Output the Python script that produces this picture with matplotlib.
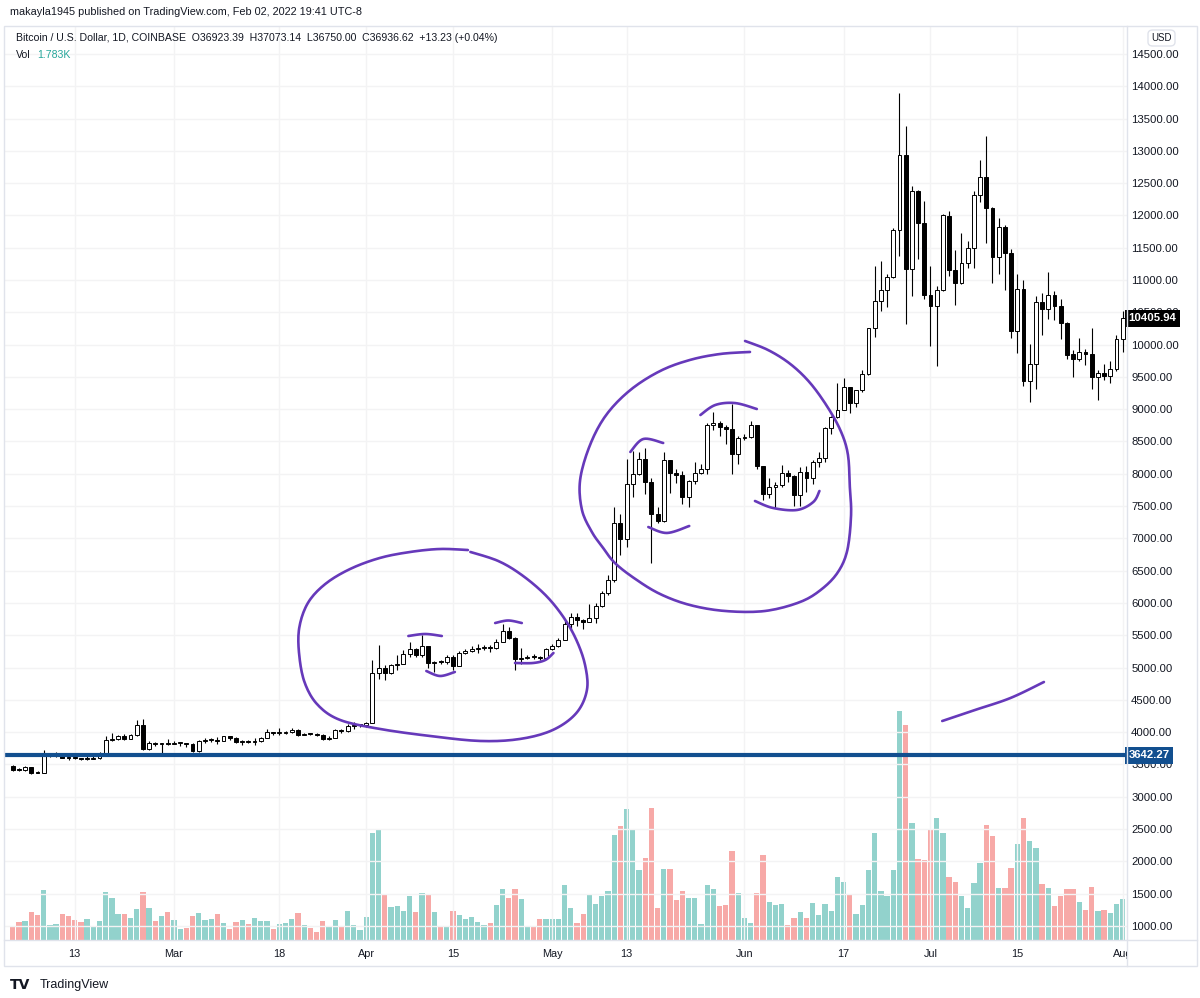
import matplotlib.pyplot as plt
import numpy as np
import matplotlib.transforms as mtransforms
from matplotlib.patches import Rectangle, FancyBboxPatch
from matplotlib.lines import Line2D

plt.rcParams['font.family'] = ['Liberation Sans', 'DejaVu Sans']

# --------------------------
# BTC/USD daily candles, Feb 03 2019 -> Aug 01 2019
# --------------------------
start_date = np.datetime64('2019-02-03')

opens = [3480, 3412, 3408, 3455, 3378, 3370, 3635, 3640, 3668, 3608,
         3602, 3595, 3578, 3585, 3598, 3640, 3875, 3895, 3945, 3898,
         3955, 4115, 3740, 3840, 3820, 3825, 3815, 3828, 3832, 3815,
         3708, 3870, 3878, 3885, 3865, 3935, 3915, 3845, 3860, 3852,
         3862, 3912, 4005, 3985, 3990, 4008, 4035, 3962, 3975, 3970,
         3962, 3900, 3915, 4030, 4015, 4095, 4105, 4110, 4140, 4915,
         4990, 4910, 5045, 5058, 5205, 5285, 5200, 5330, 5065, 5090,
         5085, 5170, 5030, 5220, 5250, 5295, 5305, 5320, 5300, 5400,
         5570, 5465, 5140, 5155, 5165, 5160, 5150, 5290, 5340, 5430,
         5670, 5785, 5735, 5705, 5760, 5960, 6155, 6350, 7235, 6985,
         7845, 8000, 8225, 7880, 7370, 7265, 8210, 8005, 7975, 7640,
         7895, 8015, 8070, 8750, 8790, 8730, 8700, 8300, 8558, 8565,
         8750, 8120, 7680, 7800, 7820, 8005, 7960, 7665, 8030, 7930,
         8180, 8245, 8714, 8885, 8990, 9343, 9090, 9290, 9540, 10250,
         10676, 10850, 11040, 11777, 12935, 11168, 12373, 11881, 10765, 10590,
         10850, 11995, 11153, 10948, 11261, 11488, 12315, 12590, 12114, 11363,
         11813, 11425, 10203, 10867, 9436, 9705, 10660, 10546, 10765, 10600,
         10340, 9850, 9783, 9890, 9860, 9500, 9556, 9520, 9618, 10083]

highs = [3492, 3440, 3470, 3462, 3405, 3720, 3660, 3690, 3672, 3640,
         3630, 3600, 3640, 3625, 3690, 3935, 3990, 3960, 3975, 3965,
         4185, 4200, 3865, 3845, 3835, 3900, 3865, 3840, 3835, 3825,
         3880, 3905, 3910, 3925, 3945, 3940, 3920, 3880, 3875, 3910,
         3925, 4045, 4010, 4060, 4020, 4060, 4055, 3995, 3992, 3985,
         3972, 3935, 4045, 4045, 4120, 4150, 4120, 4165, 5120, 5355,
         5040, 5060, 5200, 5265, 5390, 5300, 5510, 5340, 5100, 5120,
         5195, 5200, 5250, 5290, 5330, 5360, 5355, 5350, 5450, 5680,
         5630, 5475, 5300, 5200, 5210, 5180, 5300, 5360, 5460, 5730,
         5850, 5850, 5745, 5985, 5995, 6180, 6440, 7480, 7375, 8225,
         8350, 8330, 8400, 7930, 7490, 8340, 8215, 8070, 8045, 7900,
         8180, 8145, 8780, 8950, 8815, 8760, 9080, 8590, 8620, 8810,
         8760, 8125, 7940, 7880, 8140, 8060, 7985, 8100, 8120, 8220,
         8330, 8720, 8900, 9400, 9490, 9350, 9300, 9600, 10250, 11220,
         11300, 11100, 11800, 13890, 13380, 12460, 12390, 12218, 11220, 10900,
         12020, 12073, 11467, 11735, 11600, 12380, 12850, 13225, 12130, 11953,
         11850, 11480, 11090, 11000, 10005, 10750, 10800, 11126, 10830, 10700,
         10350, 9920, 10100, 9930, 10262, 9600, 9700, 9750, 10150, 10520]

lows = [3395, 3398, 3400, 3355, 3362, 3365, 3610, 3612, 3600, 3575,
        3578, 3565, 3570, 3580, 3585, 3625, 3860, 3880, 3880, 3890,
        3945, 3730, 3728, 3785, 3675, 3800, 3810, 3790, 3775, 3695,
        3700, 3835, 3855, 3820, 3860, 3885, 3835, 3800, 3835, 3805,
        3855, 3908, 3955, 3950, 3965, 3980, 3935, 3950, 3960, 3945,
        3885, 3880, 3905, 3995, 4005, 4045, 4085, 4085, 4135, 4830,
        4810, 4905, 4970, 5050, 5170, 5160, 5160, 4990, 4925, 5050,
        5055, 4955, 5025, 5210, 5240, 5230, 5270, 5240, 5290, 5390,
        5450, 4970, 5060, 5130, 5130, 5110, 5140, 5280, 5320, 5420,
        5560, 5640, 5590, 5700, 5690, 5945, 6120, 6330, 6750, 6870,
        7640, 7980, 7680, 6620, 7240, 7260, 7705, 7860, 7525, 7490,
        7835, 7990, 7990, 8680, 8580, 8455, 7990, 8145, 8520, 8550,
        8080, 7600, 7630, 7474, 7790, 7880, 7500, 7500, 7720, 7840,
        8110, 8190, 8610, 8860, 8980, 8936, 9040, 9270, 9530, 10110,
        10520, 10575, 11030, 11374, 10316, 10753, 11320, 10700, 9980, 9670,
        10830, 11065, 10620, 10940, 11180, 11180, 12200, 11580, 10960, 11100,
        10850, 10108, 9875, 9360, 9107, 9320, 10150, 10400, 10380, 10080,
        9780, 9500, 9750, 9680, 9320, 9140, 9450, 9400, 9590, 9880]

closes = [3410, 3408, 3455, 3375, 3370, 3635, 3640, 3668, 3605, 3602,
          3595, 3578, 3585, 3598, 3640, 3875, 3900, 3945, 3898, 3955,
          4115, 3740, 3840, 3820, 3825, 3815, 3828, 3832, 3815, 3708,
          3870, 3878, 3885, 3865, 3935, 3915, 3845, 3860, 3852, 3862,
          3912, 4005, 3985, 3990, 4008, 4035, 3962, 3975, 3970, 3962,
          3900, 3915, 4030, 4015, 4095, 4105, 4110, 4140, 4915, 4990,
          4910, 5045, 5058, 5205, 5285, 5200, 5330, 5065, 5090, 5085,
          5170, 5030, 5220, 5250, 5295, 5305, 5320, 5300, 5400, 5570,
          5465, 5140, 5155, 5165, 5160, 5150, 5290, 5340, 5430, 5670,
          5785, 5735, 5705, 5760, 5960, 6155, 6350, 7235, 6985, 7845,
          8000, 8225, 7880, 7370, 7265, 8210, 8005, 7975, 7640, 7895,
          8015, 8070, 8750, 8790, 8730, 8700, 8300, 8558, 8565, 8750,
          8120, 7680, 7800, 7820, 8005, 7960, 7665, 8030, 7930, 8180,
          8245, 8714, 8885, 8990, 9343, 9090, 9290, 9540, 10250, 10676,
          10850, 11040, 11777, 12935, 11168, 12373, 11881, 10765, 10590, 10850,
          12005, 11153, 10948, 11261, 11488, 12315, 12590, 12114, 11363, 11813,
          11425, 10203, 10867, 9436, 9705, 10660, 10546, 10765, 10600, 10340,
          9833, 9780, 9886, 9860, 9500, 9556, 9520, 9618, 10083, 10405.94]

# volume (relative units, same scale as the overlay)
volume = [13, 18, 19, 28, 25, 50, 15, 16, 26, 24,
          20, 18, 21, 13, 19, 48, 42, 26, 26, 22,
          31, 48, 32, 19, 24, 28, 20, 11, 12, 24,
          27, 20, 21, 26, 17, 11, 18, 20, 16, 22,
          19, 19, 11, 16, 17, 21, 27, 15, 12, 8,
          19, 13, 20, 14, 29, 15, 10, 23, 107, 110,
          46, 33, 34, 29, 44, 28, 47, 46, 28, 13,
          13, 29, 25, 21, 23, 18, 15, 17, 35, 51,
          42, 51, 41, 13, 14, 21, 21, 21, 21, 55,
          32, 17, 26, 45, 36, 44, 49, 105, 114, 131,
          110, 70, 82, 132, 32, 71, 71, 40, 49, 42,
          42, 16, 55, 51, 34, 35, 89, 47, 22, 17,
          47, 85, 38, 35, 36, 15, 22, 28, 22, 37,
          25, 36, 29, 63, 58, 46, 26, 35, 70, 107,
          49, 44, 70, 229, 215, 117, 81, 80, 111, 122,
          107, 63, 58, 44, 32, 57, 77, 115, 104, 52,
          52, 72, 96, 122, 99, 92, 56, 52, 34, 44,
          51, 51, 38, 30, 53, 29, 30, 27, 36, 41]

support_level = 3642.27

tick_dates = ['2019-02-13', '2019-03-01', '2019-03-18', '2019-04-01', '2019-04-15', '2019-05-01',
              '2019-05-13', '2019-06-01', '2019-06-17', '2019-07-01', '2019-07-15', '2019-08-01']
tick_labels = ['13', 'Mar', '18', 'Apr', '15', 'May', '13', 'Jun', '17', 'Jul', '15', 'Aug']
price_ticks = list(range(1000, 15000, 500))

# hand drawn marks (day index, price)
drawing_big1 = [(73.4, 6820), (68.9, 6836), (64.1, 6790), (59.2, 6697), (54.4, 6526), (50.4, 6294),
                (47.6, 6000), (46.2, 5613), (46.2, 5195), (47.1, 4762), (49.2, 4421), (52.8, 4189),
                (59.2, 4050), (67.3, 3941), (75.4, 3864), (81.8, 3895), (87.1, 4034), (90.9, 4297),
                (92.6, 4653), (92.3, 5040), (90.9, 5427), (88.8, 5783), (85.9, 6124), (82.1, 6433),
                (78.3, 6650), (73.8, 6790)]
drawing_big2 = [(118.9, 9886), (114.1, 9855), (109.2, 9762), (104.4, 9591), (99.6, 9297), (95.7, 8910),
                (93.1, 8446), (91.5, 7904), (91.8, 7440), (93.4, 7099), (95.1, 6867), (97.1, 6620),
                (100.4, 6372), (104.4, 6139), (109.2, 5969), (114.9, 5876), (121.3, 5876), (127.0, 6016),
                (130.5, 6217), (133.1, 6480), (134.6, 6820), (135.2, 7362), (135.0, 7796), (134.7, 8291),
                (133.6, 8647), (131.5, 9019), (128.6, 9406), (125.4, 9700), (121.8, 9917), (118.1, 10056)]
drawing_small = [
    [(63.8, 5489), (66.5, 5520), (69.2, 5489)],
    [(66.7, 4947), (68.9, 4870), (71.3, 4932)],
    [(77.8, 5690), (79.9, 5729), (82.1, 5690)],
    [(81.0, 5071), (83.9, 5071), (85.9, 5118), (87.2, 5226)],
    [(99.6, 8338), (101.7, 8539), (104.9, 8477)],
    [(102.5, 7176), (105.5, 7084), (109.1, 7192)],
    [(119.7, 7579), (122.6, 7471), (126.5, 7440), (129.1, 7563), (130.1, 7734)],
    [(110.9, 8910), (113.3, 9065), (116.5, 9095), (120.0, 9003)],
    [(149.9, 4173), (155.2, 4344), (160.9, 4529), (166.3, 4777)],
]

# --------------------------
# styling
# --------------------------
text_col = '#131722'
grid_col = '#f3f3f4'
frame_col = '#e0e3eb'
vol_up, vol_dn = '#92d2cc', '#f7a9a7'
pen_col = '#6639ba'
line_col = '#124f8f'


def fx(px):
    return px / 1200


def fy(py):
    return 1 - py / 998


def smooth(pts, k=10):
    p = np.asarray(pts, float)
    p = np.vstack([p[0], p, p[-1]])
    out = []
    t = np.linspace(0, 1, k, endpoint=False)[:, None]
    for j in range(1, len(p) - 2):
        p0, p1, p2, p3 = p[j - 1], p[j], p[j + 1], p[j + 2]
        out.append(0.5 * (2 * p1 + (-p0 + p2) * t + (2 * p0 - 5 * p1 + 4 * p2 - p3) * t ** 2
                          + (-p0 + 3 * p1 - 3 * p2 + p3) * t ** 3))
    out.append(p[-2][None])
    return np.vstack(out)


o = np.array(opens, float)
h = np.array(highs, float)
l = np.array(lows, float)
c = np.array(closes, float)
x = np.arange(len(c))
up = c >= o
tick_pos = [(np.datetime64(d) - start_date).astype(int) for d in tick_dates]

fig = plt.figure(figsize=(12, 9.98), dpi=100)
L, R, T, B = 5, 1127, 26, 940
rect = [fx(L), fy(B), fx(R) - fx(L), fy(T) - fy(B)]
ax_vol = fig.add_axes(rect)
ax = fig.add_axes(rect, sharex=ax_vol)
ax.patch.set_visible(False)

# volume overlay
ax_vol.bar(x, volume, width=0.86, color=np.where(up, vol_up, vol_dn), linewidth=0)
ax_vol.set_ylim(0, 914)
ax_vol.axis('off')

# grid
for p in price_ticks:
    ax.axhline(p, color=grid_col, lw=1, zorder=0)
for t in tick_pos:
    ax.axvline(t, color=grid_col, lw=1, zorder=0)

# candles
ax.vlines(x, l, h, color='black', lw=0.8, zorder=2)
body_bot = np.minimum(o, c)
body_h = np.maximum(np.abs(c - o), 15)
ax.bar(x, body_h, bottom=body_bot, width=0.62, color=np.where(up, 'white', 'black'),
       edgecolor='black', linewidth=0.7, zorder=3)

# horizontal support
ax.axhline(support_level, color=line_col, lw=3, zorder=4)

# drawings
for shape in [drawing_big1, drawing_big2] + drawing_small:
    s = smooth(shape)
    ax.plot(s[:, 0], s[:, 1], color=pen_col, lw=1.9, solid_capstyle='round',
            solid_joinstyle='round', zorder=5)

ax.set_xlim(-1.25, 179.7)
ax.set_ylim(783, 14932)
for sp in ax.spines.values():
    sp.set_visible(False)
ax.set_xticks([])
ax.yaxis.tick_right()
ax.set_yticks(price_ticks)
ax.set_yticklabels([f'{p:.2f}' for p in price_ticks])
ax.tick_params(axis='y', length=0, pad=3, labelsize=8.2, labelcolor=text_col)

# x labels, clipped at the price scale
clip = mtransforms.Bbox([[0, 0], [1127, 998]])
xt = mtransforms.blended_transform_factory(ax.transData, fig.transFigure)
for t, lab in zip(tick_pos, tick_labels):
    txt = fig.text(t, fy(954), lab, transform=xt, ha='center', va='center',
                   fontsize=7.8, color=text_col)
    txt.set_clip_box(clip)
    txt.set_clip_on(True)

# price labels on the scale
yt = mtransforms.blended_transform_factory(ax.transAxes, ax.transData)
yt_off = mtransforms.offset_copy(yt, fig=fig, x=1.5, y=0, units='dots')
ax.text(1.0, c[-1], f'{c[-1]:.2f}', transform=yt_off, ha='left', va='center', fontsize=8.2,
        fontweight='bold', color='white', clip_on=False, zorder=10,
        bbox=dict(boxstyle='square,pad=0.3', fc='black', ec='none'))
ax.text(1.0, support_level, f'{support_level:.2f}', transform=yt_off, ha='left', va='center',
        fontsize=8.2, fontweight='bold', color='white', clip_on=False, zorder=10,
        bbox=dict(boxstyle='square,pad=0.3', fc=line_col, ec='none'))

# frame
fig.add_artist(Rectangle((fx(4), fy(966)), fx(1197) - fx(4), fy(26) - fy(966), transform=fig.transFigure,
                         fill=False, ec=frame_col, lw=1))
fig.add_artist(Line2D([fx(4), fx(1197)], [fy(940), fy(940)], transform=fig.transFigure, color=frame_col, lw=1))
fig.add_artist(Line2D([fx(1127), fx(1127)], [fy(26), fy(966)], transform=fig.transFigure, color=frame_col, lw=1))
fig.add_artist(FancyBboxPatch((fx(1148), fy(46)), fx(27), fy(30) - fy(46), boxstyle='round,pad=0,rounding_size=0.004',
                              transform=fig.transFigure, fill=False, ec=frame_col, lw=1))
fig.text(fx(1161.5), fy(38), 'USD', ha='center', va='center', fontsize=7, color=text_col)

# header texts
fig.text(fx(10), fy(12), 'makayla1945 published on TradingView.com, Feb 02, 2022 19:41 UTC-8',
         ha='left', va='center', fontsize=7.8, color=text_col)
fig.text(fx(16), fy(38), 'Bitcoin / U.S. Dollar, 1D, COINBASE  O36923.39  H37073.14  L36750.00  C36936.62  +13.23 (+0.04%)',
         ha='left', va='center', fontsize=7.6, color=text_col)
fig.text(fx(16), fy(55), 'Vol', ha='left', va='center', fontsize=7.6, color=text_col)
fig.text(fx(37), fy(55), '1.783K', ha='left', va='center', fontsize=7.6, color='#26a69a')

# logo
fig.text(fx(10), fy(985), 'TV', ha='left', va='center', fontsize=10, fontweight='heavy', color=text_col,
         family=['DejaVu Sans'])
fig.text(fx(40), fy(985), 'TradingView', ha='left', va='center', fontsize=9, color=text_col)

fig.savefig('out.png', dpi=100, facecolor='white')
